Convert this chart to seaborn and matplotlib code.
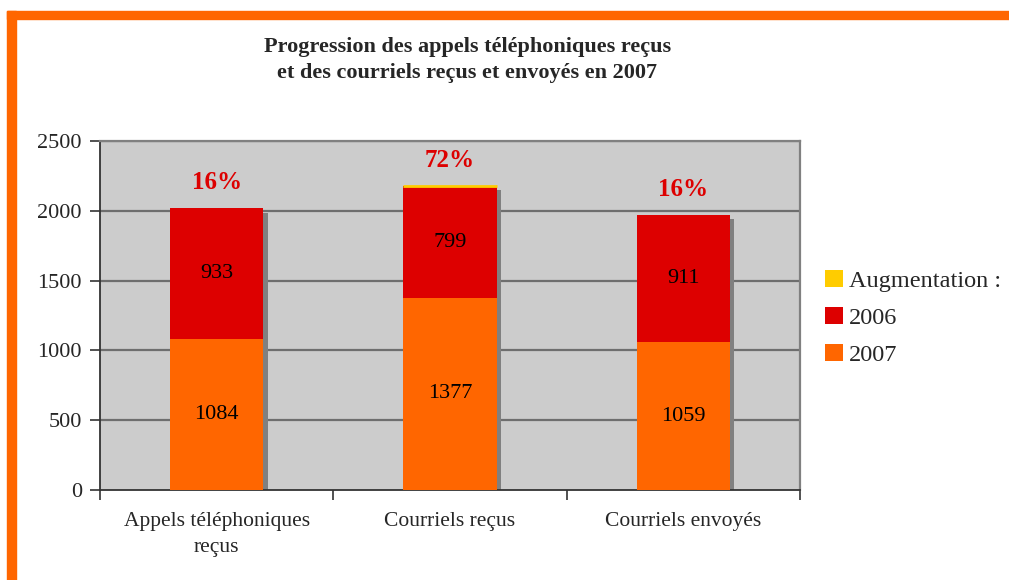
import matplotlib
matplotlib.use("Agg")
import matplotlib.pyplot as plt
import matplotlib.patheffects as pe
import seaborn as sns
import pandas as pd
import numpy as np

# Data
categories = ["Appels téléphoniques\nreçus", "Courriels reçus", "Courriels envoyés"]
values_2007 = [1084, 1377, 1059]
values_2006 = [933, 799, 911]
augmentation = [0.16, 0.72, 0.16]
pct_labels = ["16%", "72%", "16%"]

orange = "#FF6600"
red = "#DD0000"
yellow = "#FFCC00"

sns.set_style("white")
plt.rcParams["font.family"] = ["Liberation Serif", "DejaVu Serif"]

df = pd.DataFrame({
    "cat": categories,
    "v2007": values_2007,
    "v2006": values_2006,
    "aug": augmentation,
})
df["stack2006"] = df["v2007"] + df["v2006"]
df["total"] = df["stack2006"] + df["aug"]

fig = plt.figure(figsize=(10.09, 5.8), dpi=100)
ax = fig.add_axes([100 / 1009, 90 / 580, 700 / 1009, 349 / 580])
ax.set_facecolor("#CCCCCC")

# gridlines behind bars
for yv in range(500, 2501, 500):
    ax.axhline(yv, color="#6E6E6E", lw=1.6, zorder=0)

w = 0.40
shadow = [pe.SimplePatchShadow(offset=(3, -3), shadow_rgbFace="#808080", alpha=1.0), pe.Normal()]

# stacked bars, drawn back to front
sns.barplot(data=df, x="cat", y="total", color=yellow, width=w, saturation=1,
            label="Augmentation :", ax=ax, zorder=2, linewidth=0)
for p in ax.patches:
    p.set_path_effects(shadow)
sns.barplot(data=df, x="cat", y="stack2006", color=red, width=w, saturation=1,
            label="2006", ax=ax, zorder=3, linewidth=0)
sns.barplot(data=df, x="cat", y="v2007", color=orange, width=w, saturation=1,
            label="2007", ax=ax, zorder=4, linewidth=0)

# thin visible top for the larger increase
for i, a in enumerate(augmentation):
    if a > 0.5:
        ax.hlines(df["total"][i] + 2, i - w / 2, i + w / 2, color=yellow, lw=2, zorder=5)

# segment labels
for i in range(len(categories)):
    ax.text(i, values_2007[i] / 2, str(values_2007[i]), ha="center", va="center",
            fontsize=16, color="black", zorder=6)
    ax.text(i, values_2007[i] + values_2006[i] / 2, str(values_2006[i]), ha="center",
            va="center", fontsize=16, color="black", zorder=6)
    ax.annotate(pct_labels[i], (i, df["total"][i]), xytext=(0, 18.5), textcoords="offset points",
                ha="center", va="center", fontsize=18, fontweight="bold", color=red, zorder=6)

ax.set_xlim(-0.5, 2.5)
ax.set_ylim(0, 2500)
ax.set_yticks(range(0, 2501, 500))
ax.set_xlabel("")
ax.set_ylabel("")
ax.tick_params(axis="y", labelsize=16, length=7, width=1.2, direction="out", left=True, pad=6,
               color="#333333")
ax.tick_params(axis="x", which="major", labelsize=15.5, length=0, pad=16)
for t in ax.get_xticklabels():
    t.set_linespacing(1.5)
ax.set_xticks([0.5, 1.5, 2.5, -0.5], minor=True)
ax.tick_params(axis="x", which="minor", length=7, width=1.2, direction="out", bottom=True,
               color="#333333")

for s in ["left", "bottom"]:
    ax.spines[s].set_color("#333333")
    ax.spines[s].set_linewidth(1.3)
for s in ["top", "right"]:
    ax.spines[s].set_color("#808080")
    ax.spines[s].set_linewidth(1.6)

leg = ax.legend(loc="upper left", bbox_to_anchor=(1.036, 0.63), frameon=False, fontsize=17.5,
                handlelength=0.72, handleheight=0.72, handletextpad=0.25, labelspacing=0.6,
                borderaxespad=0, borderpad=0)
for h in leg.legend_handles:
    h.set_path_effects([])

fig.text(0.463, 1 - 60 / 580, "Progression des appels téléphoniques reçus\net des courriels reçus et envoyés en 2007",
         ha="center", va="center", fontsize=16, fontweight="bold", linespacing=1.45)

# orange frame on top and left
fig.patches.append(plt.Rectangle((7 / 1009, 0), 9 / 1009, 1 - 11 / 580, transform=fig.transFigure,
                                 color=orange, zorder=0))
fig.patches.append(plt.Rectangle((7 / 1009, 1 - 19 / 580), 1 - 7 / 1009, 8 / 580,
                                 transform=fig.transFigure, color=orange, zorder=0))

fig.savefig("out.png", dpi=100)
